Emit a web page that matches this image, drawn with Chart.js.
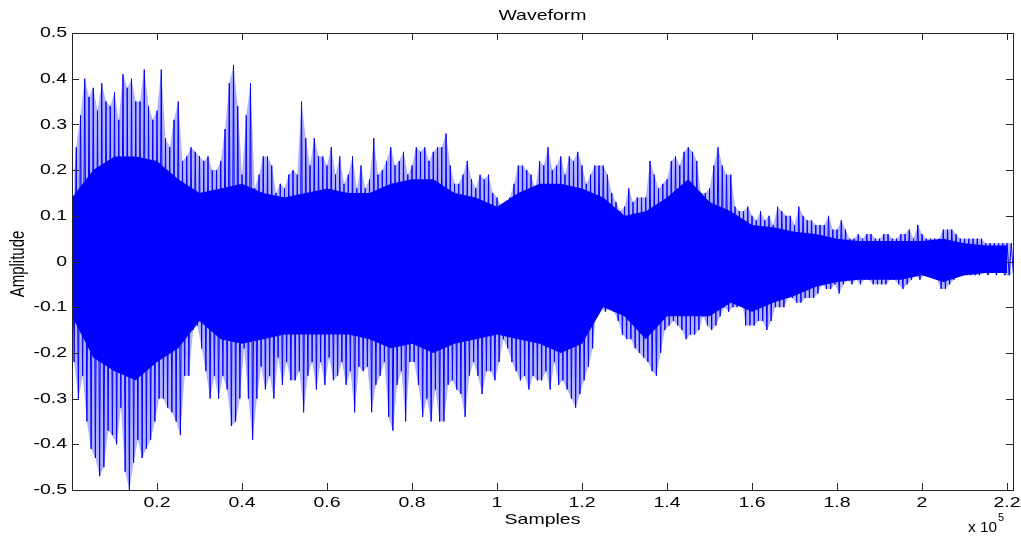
<!DOCTYPE html>
<html>
<head>
<meta charset="utf-8">
<title>Waveform</title>
<script src="https://cdn.jsdelivr.net/npm/chart.js@4/dist/chart.umd.min.js"></script>
<style>
    html, body { margin: 0; padding: 0; background: #fff; }
    #wrap { width: 1021px; height: 536px; }
</style>
</head>
<body>
<div id="wrap"><canvas id="waveChart" width="1021" height="536"></canvas></div>
<script>
// Peak amplitude per block of 1000 samples
const blockSize = 1000;
const peakUpper = [
    0.14, 0.25, 0.32, 0.40, 0.36, 0.38, 0.33, 0.39, 0.35, 0.34,
    0.37, 0.31, 0.41, 0.38, 0.40, 0.35, 0.35, 0.42, 0.34, 0.31,
    0.33, 0.42, 0.27, 0.25, 0.31, 0.35, 0.22, 0.23, 0.25, 0.24,
    0.23, 0.22, 0.23, 0.20, 0.20, 0.22, 0.29, 0.39, 0.43, 0.34,
    0.19, 0.32, 0.39, 0.16, 0.19, 0.23, 0.23, 0.21, 0.15, 0.17,
    0.16, 0.19, 0.20, 0.19, 0.35, 0.27, 0.21, 0.27, 0.23, 0.23,
    0.21, 0.25, 0.19, 0.23, 0.17, 0.19, 0.23, 0.16, 0.21, 0.16,
    0.18, 0.27, 0.19, 0.20, 0.22, 0.25, 0.21, 0.22, 0.24, 0.19,
    0.21, 0.25, 0.24, 0.25, 0.22, 0.24, 0.25, 0.25, 0.28, 0.21,
    0.17, 0.17, 0.19, 0.22, 0.18, 0.16, 0.19, 0.18, 0.19, 0.15,
    0.14, 0.12, 0.11, 0.14, 0.17, 0.21, 0.21, 0.20, 0.19, 0.16,
    0.22, 0.21, 0.25, 0.20, 0.21, 0.23, 0.19, 0.23, 0.22, 0.24,
    0.21, 0.17, 0.19, 0.21, 0.21, 0.21, 0.19, 0.15, 0.13, 0.11,
    0.12, 0.16, 0.13, 0.14, 0.14, 0.14, 0.22, 0.19, 0.16, 0.17,
    0.18, 0.22, 0.23, 0.21, 0.24, 0.25, 0.24, 0.22, 0.15, 0.15,
    0.16, 0.21, 0.25, 0.21, 0.19, 0.19, 0.12, 0.11, 0.11, 0.12,
    0.10, 0.09, 0.11, 0.09, 0.10, 0.08, 0.12, 0.11, 0.10, 0.10,
    0.08, 0.12, 0.10, 0.09, 0.09, 0.08, 0.08, 0.08, 0.10, 0.07,
    0.07, 0.09, 0.07, 0.05, 0.05, 0.06, 0.05, 0.06, 0.06, 0.05,
    0.05, 0.06, 0.06, 0.05, 0.05, 0.06, 0.06, 0.07, 0.05, 0.08,
    0.06, 0.05, 0.05, 0.05, 0.05, 0.07, 0.07, 0.07, 0.06, 0.05,
    0.05, 0.05, 0.05, 0.05, 0.05, 0.04, 0.04, 0.04, 0.04, 0.04,
    0.04, 0.04
];
const peakLower = [
    -0.22, -0.30, -0.25, -0.35, -0.41, -0.43, -0.47, -0.45, -0.37, -0.38,
    -0.40, -0.32, -0.46, -0.50, -0.44, -0.39, -0.43, -0.41, -0.39, -0.35,
    -0.30, -0.30, -0.32, -0.33, -0.35, -0.38, -0.25, -0.25, -0.15, -0.14,
    -0.19, -0.24, -0.30, -0.25, -0.30, -0.25, -0.28, -0.36, -0.35, -0.30,
    -0.19, -0.30, -0.39, -0.30, -0.23, -0.28, -0.25, -0.30, -0.21, -0.27,
    -0.22, -0.26, -0.26, -0.24, -0.33, -0.25, -0.22, -0.28, -0.22, -0.27,
    -0.21, -0.26, -0.25, -0.22, -0.27, -0.24, -0.33, -0.23, -0.24, -0.23,
    -0.33, -0.27, -0.25, -0.22, -0.34, -0.37, -0.27, -0.24, -0.35, -0.22,
    -0.22, -0.27, -0.34, -0.30, -0.35, -0.28, -0.35, -0.35, -0.27, -0.26,
    -0.28, -0.29, -0.34, -0.25, -0.22, -0.25, -0.29, -0.24, -0.24, -0.26,
    -0.22, -0.17, -0.19, -0.22, -0.24, -0.26, -0.25, -0.28, -0.25, -0.26,
    -0.26, -0.24, -0.28, -0.22, -0.27, -0.26, -0.28, -0.30, -0.32, -0.29,
    -0.26, -0.23, -0.19, -0.10, -0.10, -0.11, -0.10, -0.11, -0.13, -0.16,
    -0.17, -0.17, -0.19, -0.20, -0.21, -0.22, -0.24, -0.25, -0.20, -0.15,
    -0.14, -0.13, -0.14, -0.15, -0.17, -0.16, -0.16, -0.15, -0.12, -0.14,
    -0.15, -0.14, -0.12, -0.10, -0.11, -0.10, -0.10, -0.08, -0.14, -0.14,
    -0.14, -0.13, -0.13, -0.15, -0.13, -0.10, -0.10, -0.10, -0.08, -0.08,
    -0.09, -0.09, -0.08, -0.08, -0.08, -0.07, -0.05, -0.06, -0.06, -0.05,
    -0.07, -0.05, -0.04, -0.05, -0.04, -0.05, -0.04, -0.04, -0.05, -0.05,
    -0.05, -0.05, -0.04, -0.04, -0.05, -0.06, -0.05, -0.04, -0.03, -0.04,
    -0.03, -0.03, -0.03, -0.04, -0.06, -0.06, -0.05, -0.04, -0.03, -0.03,
    -0.03, -0.03, -0.03, -0.03, -0.02, -0.03, -0.02, -0.03, -0.02, -0.03,
    -0.03, -0.03
];

// Dense core of the signal, every 5000 samples
const bodyStep = 5000;
const bodyUpper = [
    0.14, 0.20, 0.23, 0.23, 0.22, 0.18, 0.15, 0.16, 0.17, 0.15,
    0.14, 0.15, 0.16, 0.15, 0.15, 0.17, 0.18, 0.18, 0.15, 0.14,
    0.12, 0.15, 0.17, 0.17, 0.16, 0.14, 0.10, 0.11, 0.14, 0.18,
    0.13, 0.11, 0.08, 0.075, 0.065, 0.06, 0.05, 0.045, 0.045, 0.045,
    0.045, 0.05, 0.04, 0.035, 0.035
];
const bodyLower = [
    -0.12, -0.21, -0.24, -0.26, -0.22, -0.19, -0.13, -0.17, -0.18, -0.17,
    -0.16, -0.16, -0.16, -0.16, -0.17, -0.19, -0.18, -0.20, -0.18, -0.17,
    -0.16, -0.17, -0.18, -0.20, -0.18, -0.10, -0.12, -0.17, -0.12, -0.12,
    -0.12, -0.09, -0.11, -0.09, -0.075, -0.055, -0.045, -0.04, -0.04, -0.04,
    -0.03, -0.045, -0.03, -0.025, -0.025
];

// Axes
const xMax = 221400;
const xTickValues = [20000, 40000, 60000, 80000, 100000, 120000, 140000, 160000, 180000, 200000, 220000];
const xTickLabels = ['0.2', '0.4', '0.6', '0.8', '1', '1.2', '1.4', '1.6', '1.8', '2', '2.2'];
const yTickValues = [0.5, 0.4, 0.3, 0.2, 0.1, 0, -0.1, -0.2, -0.3, -0.4, -0.5];
const yTickLabels = ['0.5', '0.4', '0.3', '0.2', '0.1', '0', '-0.1', '-0.2', '-0.3', '-0.4', '-0.5'];

const BLUE = '#0000ff';
const FONT = '"Liberation Sans", Arial, Helvetica, sans-serif';
const STRETCH = 1.3; // the source image is wider than it is tall

// zig-zag between the positive and negative peak of every block
const waveData = [];
peakUpper.forEach((u, i) => {
    waveData.push({ x: i * blockSize, y: u });
    waveData.push({ x: i * blockSize + blockSize / 2, y: peakLower[i] });
});
const peakTop = peakUpper.map((v, i) => ({ x: i * blockSize, y: v }));
const peakBottom = peakLower.map((v, i) => ({ x: i * blockSize + blockSize / 2, y: v }));
const bodyTop = bodyUpper.map((v, i) => ({ x: i * bodyStep, y: v }));
const bodyBottom = bodyLower.map((v, i) => ({ x: i * bodyStep, y: v }));

function wideText(ctx, text, x, y, align, sx = STRETCH) {
    ctx.save();
    ctx.translate(x, y);
    ctx.scale(sx, 1);
    ctx.textAlign = align;
    ctx.fillText(text, 0, 0);
    ctx.restore();
}

// frame, inward ticks and all the labels, drawn MATLAB style
const matlabFrame = {
    id: 'matlabFrame',
    afterDatasetsDraw(chart) {
        const { ctx, chartArea: a, scales } = chart;
        const tick = 7;
        ctx.save();
        ctx.strokeStyle = '#262626';
        ctx.lineWidth = 1;
        ctx.beginPath();
        xTickValues.forEach(v => {
            const px = Math.round(scales.x.getPixelForValue(v)) + 0.5;
            ctx.moveTo(px, a.bottom); ctx.lineTo(px, a.bottom - tick);
            ctx.moveTo(px, a.top); ctx.lineTo(px, a.top + tick);
        });
        yTickValues.forEach(v => {
            const py = Math.round(scales.y.getPixelForValue(v)) + 0.5;
            ctx.moveTo(a.left, py); ctx.lineTo(a.left + tick, py);
            ctx.moveTo(a.right, py); ctx.lineTo(a.right - tick, py);
        });
        ctx.stroke();
        ctx.strokeRect(Math.round(a.left) + 0.5, Math.round(a.top) + 0.5,
            Math.round(a.right - a.left), Math.round(a.bottom - a.top));

        ctx.fillStyle = '#000';
        ctx.textBaseline = 'middle';
        ctx.font = '15px ' + FONT;
        xTickValues.forEach((v, i) => {
            wideText(ctx, xTickLabels[i], scales.x.getPixelForValue(v), 503, 'center');
        });
        yTickValues.forEach((v, i) => {
            wideText(ctx, yTickLabels[i], a.left - 5, scales.y.getPixelForValue(v), 'right');
        });

        const cx = (a.left + a.right) / 2;
        wideText(ctx, 'Waveform', cx, 16, 'center');
        wideText(ctx, 'Samples', cx, 520, 'center');

        ctx.font = '14px ' + FONT;
        wideText(ctx, 'x 10', 968, 528, 'left', 1.1);
        ctx.font = '10px ' + FONT;
        wideText(ctx, '5', 998, 518, 'left', 1.1);

        ctx.font = '15px ' + FONT;
        ctx.translate(19, 264);
        ctx.scale(STRETCH, 1);
        ctx.rotate(-Math.PI / 2);
        ctx.textAlign = 'center';
        ctx.fillText('Amplitude', 0, 0);
        ctx.restore();
    }
};

const ctx = document.getElementById('waveChart');
const waveChart = new Chart(ctx, {
    type: 'line',
    data: {
        datasets: [
            {
                label: 'peak band top',
                data: peakTop,
                borderWidth: 0,
                pointRadius: 0,
                backgroundColor: 'rgba(0, 0, 255, 0.3)',
                fill: '+1'
            },
            {
                label: 'peak band bottom',
                data: peakBottom,
                borderWidth: 0,
                pointRadius: 0,
                fill: false
            },
            {
                label: 'body top',
                data: bodyTop,
                borderWidth: 0,
                pointRadius: 0,
                backgroundColor: BLUE,
                fill: '+1'
            },
            {
                label: 'body bottom',
                data: bodyBottom,
                borderWidth: 0,
                pointRadius: 0,
                fill: false
            },
            {
                label: 'Waveform',
                data: waveData,
                borderColor: BLUE,
                borderWidth: 1,
                pointRadius: 0,
                tension: 0,
                fill: false
            }
        ]
    },
    options: {
        responsive: false,
        animation: false,
        devicePixelRatio: 1,
        layout: { padding: { top: 33, right: 8, left: 0, bottom: 0 } },
        plugins: {
            legend: { display: false },
            tooltip: { enabled: false },
            title: { display: false }
        },
        scales: {
            x: {
                type: 'linear',
                min: 0,
                max: xMax,
                grid: { display: false, drawTicks: false },
                border: { display: false },
                ticks: { display: false },
                afterFit: scale => { scale.height = 46; }
            },
            y: {
                min: -0.5,
                max: 0.5,
                grid: { display: false, drawTicks: false },
                border: { display: false },
                ticks: { display: false },
                afterFit: scale => { scale.width = 72; }
            }
        }
    },
    plugins: [matlabFrame]
});
</script>
</body>
</html>
